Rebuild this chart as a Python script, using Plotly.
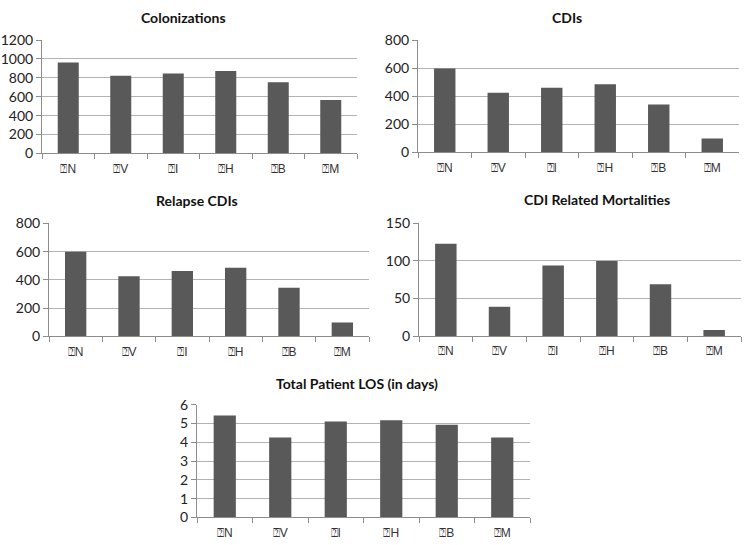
import plotly.graph_objects as go

categories = ["⍰N", "⍰V", "⍰I", "⍰H", "⍰B", "⍰M"]
colonizations = [962, 823, 846, 872, 755, 565]
cdis = [600, 426, 462, 488, 343, 100]
relapse_cdis = [600, 427, 463, 487, 344, 99]
mortalities = [123, 39, 94, 100, 69, 8]
los_days = [5.42, 4.25, 5.10, 5.17, 4.93, 4.25]

titles = ["Colonizations", "CDIs", "Relapse CDIs", "CDI Related Mortalities", "Total Patient LOS (in days)"]
series = [colonizations, cdis, relapse_cdis, mortalities, los_days]
yranges = [[0, 1200], [0, 800], [0, 800], [0, 150], [0, 6]]
dticks = [200, 200, 200, 50, 1]

W, H = 750, 545


def vy(y):
    # compensate the vertical mapping observed in the capture
    return (y - 8.2) / 0.969


# pixel boxes: x0, x1, ytop, ybottom (target picture coordinates)
boxes = [(42, 357, 39.3, 152.7), (418, 739, 39.7, 151.7), (49, 369, 222.7, 335.7),
         (419, 741, 222.7, 335.3), (197, 530, 404, 516.7)]
title_pos = [(183, 17), (567, 17), (197, 200), (597, 199), (357, 383)]

BAR = "#595959"
GRID = "#b3b3b3"
AX = "#8c8c8c"
FONT = "Lato"

fig = go.Figure()
layout = dict(width=W, height=H, autosize=False, margin=dict(l=0, r=0, t=0, b=0),
              plot_bgcolor="white", paper_bgcolor="white", showlegend=False,
              bargap=0.6, annotations=[])
for i, (vals, (x0, x1, yt, yb)) in enumerate(zip(series, boxes)):
    n = "" if i == 0 else str(i + 1)
    fig.add_trace(go.Bar(x=categories, y=vals, marker_color=BAR, marker_line_width=0,
                         xaxis="x" + n, yaxis="y" + n, width=0.4))
    layout["xaxis" + n] = dict(domain=[x0 / W, x1 / W], anchor="y" + n,
                               showline=True, linecolor=AX, ticks="outside",
                               tickson="boundaries", ticklen=5, tickcolor=AX,
                               ticklabelstandoff=4,
                               showgrid=False, tickfont=dict(family="Liberation Sans", size=12, color="#333"))
    layout["yaxis" + n] = dict(domain=[1 - vy(yb) / H, 1 - vy(yt) / H], anchor="x" + n,
                               range=yranges[i], dtick=dticks[i], showline=True,
                               linecolor=AX, ticks="outside", ticklen=5, tickcolor=AX,
                               gridcolor=GRID, zeroline=False,
                               tickfont=dict(family=FONT, size=14, color="#222"))
    tx, ty = title_pos[i]
    layout["annotations"].append(dict(text="<b>" + titles[i] + "</b>", x=tx / W, y=1 - vy(ty) / H,
                                      xref="paper", yref="paper", showarrow=False,
                                      xanchor="center", yanchor="middle",
                                      font=dict(family=FONT, size=14, color="#111")))
fig.update_layout(**layout)
post = """
var de=document.documentElement, b=document.body;
de.style.margin='0';de.style.padding='0';de.style.overflow='hidden';de.style.height='545px';
b.style.margin='0';b.style.padding='0';b.style.overflow='hidden';b.style.height='545px';
var d=document.getElementById('{plot_id}');
d.style.position='fixed';d.style.top='0px';d.style.left='0px';
"""
fig.write_html("out.html", config={"displayModeBar": False, "responsive": False}, post_script=post)
